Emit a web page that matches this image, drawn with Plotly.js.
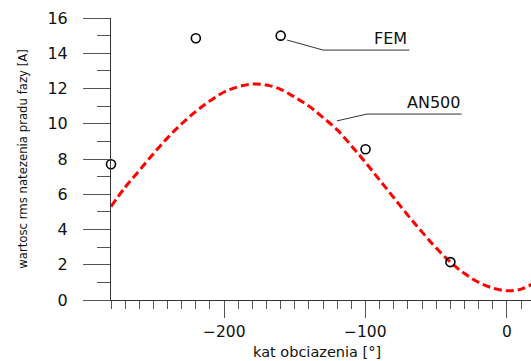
<!DOCTYPE html>
<html>
<head>
<meta charset="utf-8">
<script src="https://cdn.plot.ly/plotly-3.0.1.min.js"></script>
<style>
html,body{margin:0;padding:0;background:#fff;}
#chart{width:531px;height:361px;}
</style>
</head>
<body>
<div id="chart"></div>
<script>
// AN500 curve (load angle in degrees, rms phase current in A)
const anAngle = [-280,-270,-260,-250,-240,-230,-220,-210,-200,-190,-180,-170,-160,-150,-140,-130,-120,-110,-100,-90,-80,-70,-60,-50,-40,-30,-20,-10,0,10,20];
const anCurrent = [5.3,6.4,7.35,8.3,9.2,10.0,10.7,11.3,11.8,12.1,12.25,12.2,11.95,11.5,11.0,10.35,9.65,8.75,7.8,6.8,5.8,4.8,3.85,2.95,2.15,1.5,1.0,0.68,0.52,0.62,1.0];

// FEM results
const femAngle = [-280,-220,-160,-100,-40,20];
const femCurrent = [7.7,14.85,15.0,8.55,2.15,1.35];

// Axis tick labels and titles
const xTickVals = [-200,-100,0];
const xTickText = ['\u2212200','\u2212100','0'];
const xTitle = 'kat obciazenia [°]';
const yTitle = 'wartosc rms natezenia pradu fazy [A]';
const seriesNames = ['FEM','AN500'];

// Leader lines for labels (x in degrees, y in A)
const femLeaderX = [-155.5,-130,-69];
const femLeaderY = [14.75,14.18,14.18];
const anLeaderX = [-120.3,-99,-32];
const anLeaderY = [10.16,10.55,10.55];

function pathOf(xs, ys){
  return xs.map((x,i)=> (i? 'L':'M') + x + ',' + ys[i]).join(' ');
}

const traces = [
  {
    x: anAngle, y: anCurrent, name: seriesNames[1], type: 'scatter', mode: 'lines',
    line: {color: '#ff0000', width: 3, dash: '8px,4px', shape: 'spline'},
    cliponaxis: false, hoverinfo: 'skip'
  },
  {
    x: femAngle, y: femCurrent, name: seriesNames[0], type: 'scatter', mode: 'markers',
    marker: {symbol: 'circle-open', size: 9, color: '#000', line: {width: 1.6, color: '#000'}},
    cliponaxis: false, hoverinfo: 'skip'
  }
];

const tickFont = {family: 'DejaVu Sans, Verdana, sans-serif', size: 16, color: '#111'};
const xTickFont = {family: 'DejaVu Sans, Verdana, sans-serif', size: 15.5, color: '#111'};
const labelFont = {family: 'DejaVu Sans, Verdana, sans-serif', size: 16, color: '#111'};

const annotations = [
  {x: femLeaderX[2], y: femLeaderY[2], xref: 'x', yref: 'y', text: seriesNames[0], showarrow: false,
   xanchor: 'right', yanchor: 'bottom', font: labelFont},
  {x: anLeaderX[2], y: anLeaderY[2], xref: 'x', yref: 'y', text: seriesNames[1], showarrow: false,
   xanchor: 'right', yanchor: 'bottom', font: labelFont},
  {x: -134.5, y: 0, xref: 'x', yref: 'paper', text: xTitle, showarrow: false, borderpad: 0,
   xanchor: 'center', yanchor: 'bottom', yshift: -61, font: {family: 'DejaVu Sans, Verdana, sans-serif', size: 14.5, color: '#111'}}
].concat(xTickVals.map((v, i) => ({
  x: v, y: 0, xref: 'x', yref: 'paper', text: xTickText[i], showarrow: false, borderpad: 0,
  xanchor: 'center', yanchor: 'top', yshift: -22, font: xTickFont
})));

const layout = {
  width: 531, height: 361,
  margin: {l: 111, r: 0, t: 18, b: 61, pad: 0},
  paper_bgcolor: '#fff', plot_bgcolor: '#fff',
  showlegend: false,
  xaxis: {
    range: [-280, 17], showgrid: false, zeroline: false,
    showline: true, linecolor: '#333', linewidth: 1,
    ticks: 'outside', ticklen: 17, tickwidth: 1, tickcolor: '#555',
    tick0: 0, dtick: 100,
    minor: {ticks: 'outside', ticklen: 8, tickwidth: 1, tickcolor: '#555', dtick: 10, tick0: 0, showgrid: false},
    showticklabels: false,
    automargin: false
  },
  yaxis: {
    range: [0, 16], showgrid: false, zeroline: false,
    showline: true, linecolor: '#333', linewidth: 1,
    ticks: 'outside', ticklen: 27, tickwidth: 1, tickcolor: '#555',
    tick0: 0, dtick: 2,
    minor: {ticks: 'outside', ticklen: 13, tickwidth: 1, tickcolor: '#555', dtick: 1, tick0: 0, showgrid: false},
    tickfont: tickFont, ticklabelstandoff: 12,
    title: {text: yTitle, font: {family: 'DejaVu Sans Condensed, Liberation Sans Narrow, sans-serif', size: 13, color: '#111'}, standoff: 16},
    automargin: false
  },
  shapes: [
    {type: 'path', xref: 'x', yref: 'y', path: pathOf(femLeaderX, femLeaderY), line: {color: '#333', width: 1}},
    {type: 'path', xref: 'x', yref: 'y', path: pathOf(anLeaderX, anLeaderY), line: {color: '#333', width: 1}}
  ],
  annotations: annotations
};

Plotly.newPlot('chart', traces, layout, {displayModeBar: false, staticPlot: true});
</script>
</body>
</html>
